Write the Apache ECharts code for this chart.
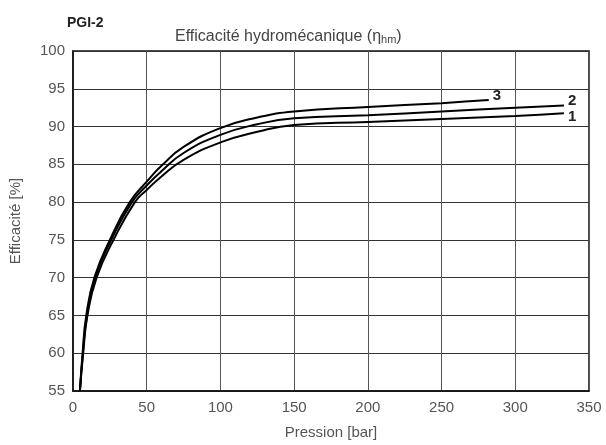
<!DOCTYPE html>
<html>
<head>
<meta charset="utf-8">
<script src="https://cdn.jsdelivr.net/npm/echarts@6/dist/echarts.min.js"></script>
<style>
  html, body { margin: 0; padding: 0; background: #fff; }
  #chart { width: 606px; height: 445px; }
</style>
</head>
<body>
<div id="chart"></div>
<script>
// Courbes : pression [bar] / efficacité [%]
const pression1 = [4.7, 6.9, 9.8, 16, 27.5, 42, 50, 60, 75, 100, 125, 150, 200, 250, 300, 333];
const courbe1 = [55, 60, 65, 70, 75, 80, 81.6, 83.4, 85.6, 87.9, 89.3, 90.2, 90.6, 91.0, 91.4, 91.75];

const pression2 = [4.7, 6.7, 9.5, 15, 26, 40, 50, 60, 75, 100, 125, 150, 200, 250, 300, 333];
const courbe2 = [55, 60, 65, 70, 75, 80, 82.2, 84.1, 86.5, 88.9, 90.3, 91.1, 91.5, 92.0, 92.5, 92.8];

const pression3 = [4.7, 6.5, 9, 14.5, 25, 38.5, 50, 60, 75, 100, 125, 150, 200, 250, 282];
const courbe3 = [55, 60, 65, 70, 75, 80, 82.7, 84.8, 87.3, 89.8, 91.2, 92.0, 92.6, 93.1, 93.5];

const nomsCourbes = ['1', '2', '3'];

const police = 'Liberation Sans, Arial, Helvetica, sans-serif';
const grisTexte = '#555';

function paires(xs, ys) {
    return xs.map((x, i) => [x, ys[i]]);
}

function serie(nom, data, decalage) {
    return {
        name: nom,
        type: 'line',
        data: data,
        smooth: 0.5,
        showSymbol: false,
        lineStyle: { color: '#000', width: 2 },
        endLabel: {
            show: true,
            formatter: nom,
            color: '#222',
            fontWeight: 'bold',
            fontSize: 15,
            fontFamily: police,
            distance: 4,
            offset: decalage
        }
    };
}

const graphique = echarts.init(document.getElementById('chart'));
graphique.setOption({
    animation: false,
    textStyle: { fontFamily: police },
    title: [
        {
            text: 'PGI-2',
            left: 62, top: 11,
            textStyle: { fontSize: 14, fontWeight: 'bold', color: '#222', fontFamily: police }
        },
        {
            text: '{a|Efficacité hydromécanique (η}{b|hm}{a|)}',
            left: 170, top: 23,
            textStyle: {
                fontWeight: 'normal',
                rich: {
                    a: { fontSize: 16, color: '#444', fontWeight: 'normal', fontFamily: police },
                    b: { fontSize: 11, color: '#444', fontWeight: 'normal', fontFamily: police, padding: [6, 0, 0, 0] }
                }
            }
        }
    ],
    grid: {
        left: 73, right: 17, top: 51, bottom: 54,
        show: true, borderColor: '#111', borderWidth: 1.5
    },
    xAxis: {
        type: 'value',
        min: 0, max: 350, interval: 50,
        name: 'Pression [bar]',
        nameLocation: 'middle',
        nameGap: 34,
        nameTextStyle: { fontSize: 15, color: grisTexte, fontFamily: police },
        axisLine: { show: true, lineStyle: { color: '#111', width: 1.5 } },
        axisTick: { show: false },
        axisLabel: { fontSize: 15, color: grisTexte, margin: 9, fontFamily: police },
        splitLine: { show: true, lineStyle: { color: '#555', width: 1 } }
    },
    yAxis: {
        type: 'value',
        min: 55, max: 100, interval: 5,
        name: 'Efficacité [%]',
        nameLocation: 'middle',
        nameGap: 50,
        nameTextStyle: { fontSize: 15, color: grisTexte, fontFamily: police },
        axisLine: { show: true, lineStyle: { color: '#111', width: 1.5 } },
        axisTick: { show: false },
        axisLabel: { fontSize: 15, color: grisTexte, margin: 8, fontFamily: police },
        splitLine: { show: true, lineStyle: { color: '#333', width: 1 } }
    },
    series: [
        serie(nomsCourbes[0], paires(pression1, courbe1), [0, 4]),
        serie(nomsCourbes[1], paires(pression2, courbe2), [0, -5]),
        serie(nomsCourbes[2], paires(pression3, courbe3), [0, -4])
    ]
});
</script>
</body>
</html>
